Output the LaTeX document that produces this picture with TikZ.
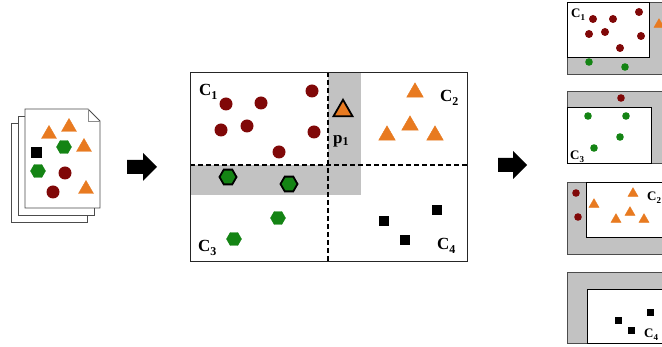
\documentclass[tikz,border=0pt]{standalone}
\usepackage{fontspec}
\setmainfont{Liberation Serif}
\usetikzlibrary{calc}

\definecolor{ptred}{RGB}{128,8,8}
\definecolor{ptorange}{RGB}{232,122,32}
\definecolor{ptgreen}{RGB}{20,132,20}
\definecolor{bandgray}{RGB}{194,194,194}

% cluster labels C_i and the point label p_1
\newcommand\bigC[1]{{\fontsize{17}{17}\selectfont\bfseries C\raisebox{-4pt}{\fontsize{12}{12}\selectfont #1}}}
\newcommand\smallC[1]{{\fontsize{13}{13}\selectfont\bfseries C\raisebox{-3pt}{\fontsize{9}{9}\selectfont #1}}}
\newcommand\pone{{\fontsize{17}{17}\selectfont\bfseries p\raisebox{-2pt}{\fontsize{12}{12}\selectfont 1}}}

% point markers: x, y (box centre), half width
\newcommand\Tri[4][]{\filldraw[ptorange,#1] ({#2},{#3-0.866*#4}) -- ({#2+#4},{#3+0.866*#4}) -- ({#2-#4},{#3+0.866*#4}) -- cycle;}
\newcommand\Hex[4][]{\filldraw[ptgreen,#1] (#2,#3) +(0:#4) -- +(60:#4) -- +(120:#4) -- +(180:#4) -- +(240:#4) -- +(300:#4) -- cycle;}
\newcommand\Dot[4][ptred]{\fill[#1] (#2,#3) circle (#4pt);}
\newcommand\Sq[3]{\fill[black] ({#1-#3},{#2-#3}) rectangle ({#1+#3},{#2+#3});}

\tikzset{
  lbl/.style={inner sep=0pt, anchor=base west},
  page/.style={draw=black!70, fill=white, line width=0.9pt},
  frame/.style={draw=black!85, line width=0.9pt},
  dashline/.style={draw=black, line width=1.3pt, dash pattern=on 5pt off 3pt},
  band/.style={fill=bandgray},
  panel/.style={fill=bandgray, draw=black!70, line width=0.8pt},
  inner/.style={fill=white, draw=black, line width=0.9pt},
  blockarrow/.style={fill=black},
  rim/.style={draw=black, line width=1.8pt},
}

\begin{document}
\begin{tikzpicture}[x=1pt, y=-1pt]
\clip (0,0) rectangle (662,347);
\fill[white] (0,0) rectangle (662,347);

% ---------- stack of input documents ----------
\draw[page] (11,123) rectangle (87,222);
\draw[page] (18,116) rectangle (94,215);
\draw[page] (25,109) -- (88,109) -- (100,121) -- (100,208) -- (25,208) -- cycle;
\draw[black!45, line width=0.6pt] (88,109) -- (88,121) -- (100,121);

\Tri{49}{132}{7.5}
\Tri{69}{125}{7.5}
\Tri{84}{145}{7.5}
\Tri{86}{187}{7.5}
\Hex{64}{147}{7.5}
\Hex{38}{171}{7.5}
\Sq{36}{153}{5.5}
\Dot{65}{173}{6.5}
\Dot{53}{192}{6.5}

% ---------- arrows ----------
\fill[blockarrow] (127,160) -- (143,160) -- (143,153) -- (157,167) -- (143,181) -- (143,174) -- (127,174) -- cycle;
\fill[blockarrow] (498,158) -- (513,158) -- (513,151) -- (527,165) -- (513,179) -- (513,172) -- (498,172) -- cycle;

% ---------- partitioned space ----------
\fill[band] (328,72) rectangle (361,195);
\fill[band] (190,165) rectangle (361,195);
\draw[dashline] (328,72) -- (328,261);
\draw[dashline] (190,165) -- (467,165);
\draw[frame] (190,72) rectangle (467,261);

% cluster C1
\Dot{226}{104}{6.5}
\Dot{261}{103}{6.5}
\Dot{312}{91}{6.5}
\Dot{221}{130}{6.5}
\Dot{247}{126}{6.5}
\Dot{314}{132}{6.5}
\Dot{279}{152}{6.5}
% cluster C2
\Tri[rim, fill=ptorange]{343}{108}{9.5}
\Tri{415}{90}{8.3}
\Tri{410}{123}{8.3}
\Tri{387}{133}{8.3}
\Tri{435}{133}{8.3}
% cluster C3
\Hex[rim, fill=ptgreen]{228}{177}{8.5}
\Hex[rim, fill=ptgreen]{289}{184}{8.5}
\Hex{278}{218}{7.5}
\Hex{234}{239}{7.5}
% cluster C4
\Sq{384}{221}{5}
\Sq{437}{210}{5}
\Sq{405}{240}{5}

\node[lbl] (c1) at (199,96) {\bigC1};
\node[lbl] (c2) at (440,102) {\bigC2};
\node[lbl] (c3) at (198,252) {\bigC3};
\node[lbl] (c4) at (437,250) {\bigC4};
\node[lbl] (p1) at (333,144) {\pone};

% ---------- per-cluster views ----------
% view of C1
\draw[panel] (567,2) rectangle (680,74);
\draw[inner] (567,2) rectangle (649,57);
\Dot{593}{19}{4}
\Dot{613}{19}{4}
\Dot{639}{12}{4}
\Dot{589}{34}{4}
\Dot{605}{32}{4}
\Dot{641}{36}{4}
\Dot{620}{48}{4}
\Dot[ptgreen]{589}{62}{3.8}
\Dot[ptgreen]{625}{67}{3.8}
\Tri{659}{23}{5}
\node[lbl] (v1) at (571,18) {\smallC1};

% view of C3
\draw[panel] (567,91) rectangle (680,163);
\draw[inner] (567,107) rectangle (651,163);
\Dot{621}{98}{3.8}
\Dot[ptgreen]{588}{116}{3.8}
\Dot[ptgreen]{626}{116}{3.8}
\Dot[ptgreen]{620}{137}{3.8}
\Dot[ptgreen]{594}{148}{3.8}
\node[lbl] (v3) at (570,160) {\smallC3};

% view of C2
\draw[panel] (567,182) rectangle (680,254);
\draw[inner] (586,182) rectangle (680,237);
\Dot{576}{193}{3.8}
\Dot{578}{217}{3.8}
\Tri{594}{203}{5}
\Tri{633}{192}{5}
\Tri{616}{218}{5}
\Tri{630}{211}{5}
\Tri{644}{218}{5}
\node[lbl] (v2) at (647,201) {\smallC2};

% view of C4
\draw[panel] (567,272) rectangle (680,343);
\draw[inner] (587,289) rectangle (680,343);
\Sq{618}{321}{3.5}
\Sq{650}{313}{3.5}
\Sq{631}{331}{3.5}
\node[lbl] (v4) at (644,338) {\smallC4};
\end{tikzpicture}
\end{document}
